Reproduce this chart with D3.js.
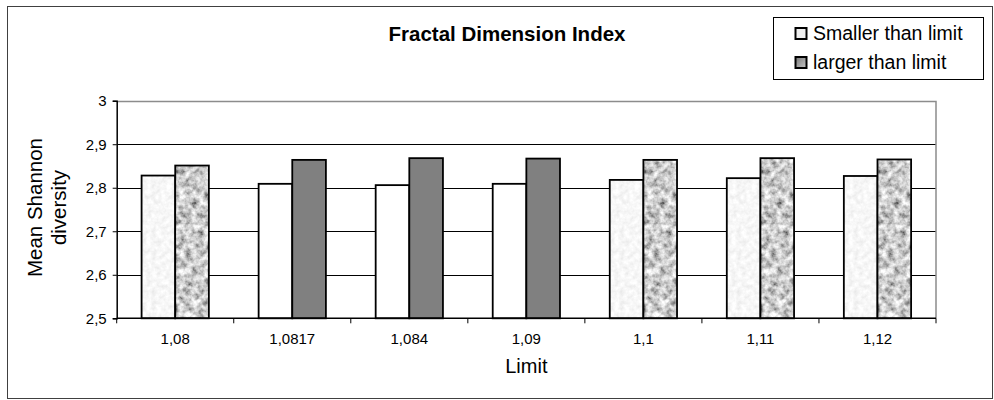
<!DOCTYPE html>
<html>
<head>
<meta charset="utf-8">
<script src="https://cdn.jsdelivr.net/npm/d3@7"></script>
<style>
  html, body { margin: 0; padding: 0; background: #fff; }
  text { font-family: "Liberation Sans", Arial, sans-serif; fill: #000; }
</style>
</head>
<body>
<svg id="chart" width="994" height="400"></svg>
<script>
const categories = ["1,08", "1,0817", "1,084", "1,09", "1,1", "1,11", "1,12"];
const seriesNames = ["Smaller than limit", "larger than limit"];
const smallerValues = [2.828, 2.809, 2.806, 2.809, 2.818, 2.822, 2.827];
const largerValues  = [2.851, 2.864, 2.868, 2.867, 2.864, 2.868, 2.865];
const yTicks = [2.5, 2.6, 2.7, 2.8, 2.9, 3.0];
const texturedCategories = ["1,08", "1,1", "1,11", "1,12"];

const svg = d3.select("#chart");
const fmt = v => d3.format(".1f")(v).replace(".", ",").replace(",0", "");

// filters for textures
const defs = svg.append("defs");
function noiseFilter(id, freq, k, c, seed) {
  const f = defs.append("filter").attr("id", id)
    .attr("x", "0").attr("y", "0").attr("width", "1").attr("height", "1");
  f.append("feTurbulence").attr("type", "fractalNoise")
    .attr("baseFrequency", freq).attr("numOctaves", 3).attr("seed", seed).attr("result", "noise");
  f.append("feColorMatrix").attr("in", "noise").attr("type", "matrix")
    .attr("values", `${k} 0 0 0 ${c}  ${k} 0 0 0 ${c}  ${k} 0 0 0 ${c}  0 0 0 0 1`).attr("result", "gray");
  f.append("feComposite").attr("in", "gray").attr("in2", "SourceGraphic").attr("operator", "in");
}
noiseFilter("texLight", 0.2, 0.3, 0.78, 4);
noiseFilter("texDark", 0.16, 1.45, -0.12, 7);

// outer border
svg.append("rect").attr("x", 7.5).attr("y", 6.5).attr("width", 985).attr("height", 392)
  .attr("fill", "#fff").attr("stroke", "#404040").attr("stroke-width", 1);

const plot = { left: 116.7, right: 936, top: 100.7, bottom: 318.3 };

const x = d3.scaleBand().domain(categories).range([plot.left, plot.right]).paddingInner(0).paddingOuter(0);
const xSub = d3.scaleBand().domain(seriesNames).range([0, x.bandwidth()]).paddingOuter(0.74).paddingInner(0);
const y = d3.scaleLinear().domain([2.5, 3.0]).range([plot.bottom, plot.top]);

// gridlines
svg.append("g").selectAll("line").data(yTicks.slice(1, -1)).join("line")
  .attr("x1", plot.left).attr("x2", plot.right)
  .attr("y1", d => Math.round(y(d)) + 0.5).attr("y2", d => Math.round(y(d)) + 0.5)
  .attr("stroke", "#000").attr("stroke-width", 1);

// top & right plot borders (gray)
svg.append("path")
  .attr("d", `M${plot.left},${Math.round(plot.top) + 0.5}H${plot.right}V${plot.bottom}`)
  .attr("fill", "none").attr("stroke", "#8c8c8c").attr("stroke-width", 1.5);

// bars
const data = categories.map((c, i) => ({ cat: c, vals: [smallerValues[i], largerValues[i]] }));
const groups = svg.append("g").selectAll("g").data(data).join("g")
  .attr("transform", d => `translate(${x(d.cat)},0)`);

groups.each(function(d) {
  const g = d3.select(this);
  const textured = texturedCategories.includes(d.cat);
  d.vals.forEach((v, si) => {
    const name = seriesNames[si];
    const bx = xSub(name), bw = xSub.bandwidth();
    const by = y(v), bh = y(2.5) - y(v);
    let fill;
    if (textured) {
      g.append("rect").attr("x", bx).attr("y", by).attr("width", bw).attr("height", bh)
        .attr("fill", "#fff").attr("filter", si === 0 ? "url(#texLight)" : "url(#texDark)");
      fill = "none";
    } else {
      fill = si === 0 ? "#ffffff" : "#808080";
    }
    g.append("rect").attr("x", bx).attr("y", by).attr("width", bw).attr("height", bh)
      .attr("fill", fill).attr("stroke", "#000").attr("stroke-width", 1.8);
  });
});

// y axis
const yAxis = d3.axisLeft(y).tickValues(yTicks).tickSize(4).tickPadding(5).tickFormat(fmt);
const yg = svg.append("g").attr("transform", `translate(${plot.left},0)`).call(yAxis);
yg.select(".domain").attr("stroke", "#000").attr("stroke-width", 1.5);
yg.selectAll(".tick line").attr("stroke", "#000");
yg.selectAll(".tick text").style("font-size", "15px").attr("fill", "#000").attr("dx", "-1");

// x axis
const xg = svg.append("g").attr("transform", `translate(0,${plot.bottom})`);
xg.append("line").attr("x1", plot.left).attr("x2", plot.right).attr("y1", 0).attr("y2", 0)
  .attr("stroke", "#000").attr("stroke-width", 1.5);
const boundaries = categories.map(c => x(c)).concat([plot.right]);
xg.selectAll("line.tk").data(boundaries).join("line").attr("class", "tk")
  .attr("x1", d => d).attr("x2", d => d).attr("y1", 0).attr("y2", 5)
  .attr("stroke", "#000");
xg.selectAll("text").data(categories).join("text")
  .attr("x", d => x(d) + x.bandwidth() / 2).attr("y", 26)
  .attr("text-anchor", "middle").style("font-size", "15px").text(d => d);

// axis titles
svg.append("text").attr("x", (plot.left + plot.right) / 2).attr("y", 373)
  .attr("text-anchor", "middle").style("font-size", "20px").text("Limit");
const yt = svg.append("text").attr("transform", `translate(42,${(plot.top + plot.bottom) / 2 - 2}) rotate(-90)`)
  .attr("text-anchor", "middle").style("font-size", "20.5px");
yt.append("tspan").attr("x", 0).attr("y", 0).text("Mean Shannon");
yt.append("tspan").attr("x", 0).attr("y", 0).attr("dy", 24).text("diversity");

// title
svg.append("text").attr("x", 507).attr("y", 41).attr("text-anchor", "middle")
  .style("font-size", "20.5px").style("font-weight", "bold").text("Fractal Dimension Index");

// legend
const lg = svg.append("g");
lg.append("rect").attr("x", 773.5).attr("y", 17.5).attr("width", 210).attr("height", 62)
  .attr("fill", "#fff").attr("stroke", "#000").attr("stroke-width", 1);
const legendGrad = defs.append("linearGradient").attr("id", "lgDark").attr("x1", 0).attr("y1", 0).attr("x2", 1).attr("y2", 1);
legendGrad.append("stop").attr("offset", 0).attr("stop-color", "#777");
legendGrad.append("stop").attr("offset", 1).attr("stop-color", "#c8c8c8");
seriesNames.forEach((name, i) => {
  const cy = 33 + i * 29;
  lg.append("rect").attr("x", 795.5).attr("y", cy - 5).attr("width", 11).attr("height", 11)
    .attr("fill", i === 0 ? "#eeeeee" : "url(#lgDark)").attr("stroke", "#000").attr("stroke-width", 2);
  lg.append("text").attr("x", 813).attr("y", cy + 7).style("font-size", "19.5px").text(name);
});
</script>
</body>
</html>
